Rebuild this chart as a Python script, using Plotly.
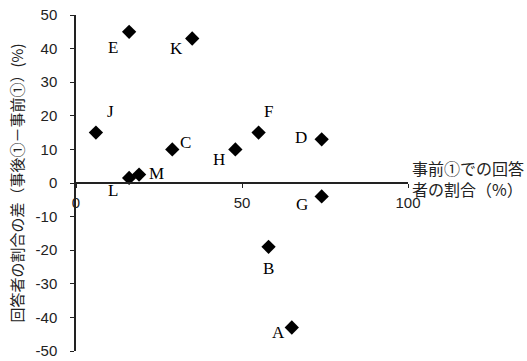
import plotly.graph_objects as go

labels = ["A", "B", "C", "D", "E", "F", "G", "H", "J", "K", "L", "M"]
x_vals = [65, 58, 29, 74, 16, 55, 74, 48, 6, 35, 16, 19]
y_vals = [-43, -19, 10, 13, 45, 15, -4, 10, 15, 43, 1.5, 2.5]
# label offsets in pixels (dx right, dy up)
label_dx = [-13, 0, 13, -21, -16, 10, -20, -16, 15, -16, -16, 17]
label_dy = [-5, -22, 7, 2, -16, 21, -8, -10, 21, -10, -13, 1]

x_ticks = [0, 50, 100]
y_ticks = [-50, -40, -30, -20, -10, 0, 10, 20, 30, 40, 50]
y_ticktext = [str(v) for v in y_ticks]

fig = go.Figure()
fig.add_trace(go.Scatter(
    x=x_vals, y=y_vals, mode="markers",
    marker=dict(symbol="diamond", size=11, color="black"),
    hoverinfo="skip", showlegend=False,
))

for lab, xv, yv, dx, dy in zip(labels, x_vals, y_vals, label_dx, label_dy):
    fig.add_annotation(x=xv, y=yv, text=lab, showarrow=False,
                       xshift=dx, yshift=dy,
                       font=dict(family="Liberation Serif", size=17, color="black"))

fig.add_annotation(xref="paper", yref="paper", x=1.0, y=0.5, xanchor="left",
                   yanchor="middle", xshift=2, yshift=5, showarrow=False, align="left",
                   text="事前①での回答<br>者の割合（%）",
                   font=dict(family="Noto Sans CJK JP", size=16, color="#222"))

fig.update_layout(
    width=527, height=361,
    margin=dict(l=76, r=119, t=15, b=10),
    paper_bgcolor="white", plot_bgcolor="white",
    font=dict(family="Liberation Sans", size=15, color="#222"),
    xaxis=dict(range=[0, 100], tickvals=x_ticks, anchor="free", position=0.5,
               showline=True, linecolor="#222", linewidth=1.5,
               ticks="outside", ticklen=4, tickcolor="#222", automargin=False,
               showgrid=False, zeroline=False, ticklabelstandoff=2,
               ticklabeloverflow="allow",
               tickfont=dict(family="Liberation Sans", size=15, color="#222")),
    yaxis=dict(range=[-50, 50], tickvals=y_ticks, ticktext=y_ticktext,
               showline=True, linecolor="#222", linewidth=1.5, automargin=False,
               ticks="outside", ticklen=4, tickcolor="#222",
               showgrid=False, zeroline=False, ticklabelstandoff=10,
               ticklabeloverflow="allow",
               tickfont=dict(family="Liberation Sans", size=15, color="#222"),
               title=dict(text="回答者の割合の差（事後①－事前①）(%)", standoff=8,
                          font=dict(family="Noto Sans CJK JP", size=15, color="#222"))),
)

# remove the default 8px page margin so the figure fills the window exactly
fig.write_html("out.html", config={"displayModeBar": False},
               post_script="document.body.style.margin='0';")
